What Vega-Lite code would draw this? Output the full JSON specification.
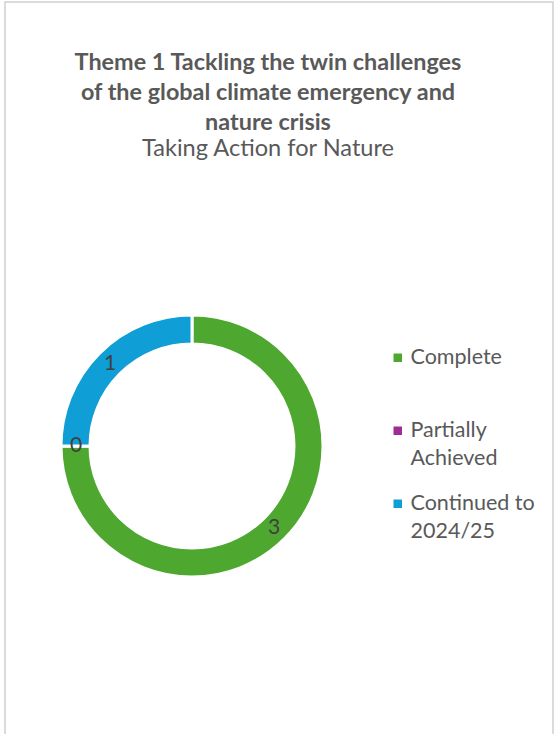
{
  "$schema": "https://vega.github.io/schema/vega-lite/v6.json",
  "autosize": {"type": "none"},
  "width": 548,
  "height": 740,
  "padding": {"left": 5, "top": 2, "right": 6, "bottom": 0},
  "background": "white",
  "view": {"stroke": "#cfcfcf", "strokeWidth": 1.5},
  "config": {
    "font": "Lato",
    "style": {"guide-label": {"lineHeight": 28}}
  },
  "title": {
    "text": ["Theme 1 Tackling the twin challenges", "of the global climate emergency and", "nature crisis"],
    "subtitle": "Taking Action for Nature",
    "anchor": "middle",
    "orient": "top",
    "offset": -160,
    "dx": -11,
    "font": "Lato",
    "fontSize": 23.4,
    "fontWeight": "bold",
    "color": "#595959",
    "lineHeight": 30,
    "subtitleFont": "Lato",
    "subtitleFontSize": 23.6,
    "subtitleColor": "#595959",
    "subtitlePadding": 2
  },
  "data": {
    "values": [
      {"status": "Complete", "count": 3, "order": 1},
      {"status": "Partially Achieved", "count": 0, "order": 2},
      {"status": "Continued to 2024/25", "count": 1, "order": 3}
    ]
  },
  "encoding": {
    "theta": {"field": "count", "type": "quantitative", "stack": true},
    "order": {"field": "order", "type": "quantitative"}
  },
  "layer": [
    {
      "mark": {"type": "arc", "innerRadius": 102, "outerRadius": 131, "stroke": "white", "strokeWidth": 3, "xOffset": -87, "yOffset": 74},
      "encoding": {
        "color": {
          "field": "status",
          "type": "nominal",
          "sort": ["Complete", "Partially Achieved", "Continued to 2024/25"],
          "scale": {"domain": ["Complete", "Partially Achieved", "Continued to 2024/25"], "range": ["#4EA72E", "#A02B93", "#0F9ED5"]},
          "legend": {
            "title": null,
            "orient": "none",
            "legendX": 382,
            "legendY": 345,
            "symbolType": "square",
            "symbolSize": 72,
            "symbolStrokeWidth": 0,
            "labelOffset": 2,
            "labelFont": "Lato",
            "labelFontSize": 21.5,
            "labelColor": "#595959",
            "labelLimit": 200,
            "labelExpr": "datum.label == 'Partially Achieved' ? ['Partially', 'Achieved'] : datum.label == 'Continued to 2024/25' ? ['Continued to', '2024/25'] : ['Complete', ' ']",
            "rowPadding": 22
          }
        }
      }
    },
    {
      "mark": {"type": "text", "radius": 116, "fontSize": 21, "color": "#404040", "font": "Lato", "xOffset": -87, "yOffset": 74},
      "encoding": {
        "text": {"field": "count", "type": "quantitative"}
      }
    }
  ]
}
